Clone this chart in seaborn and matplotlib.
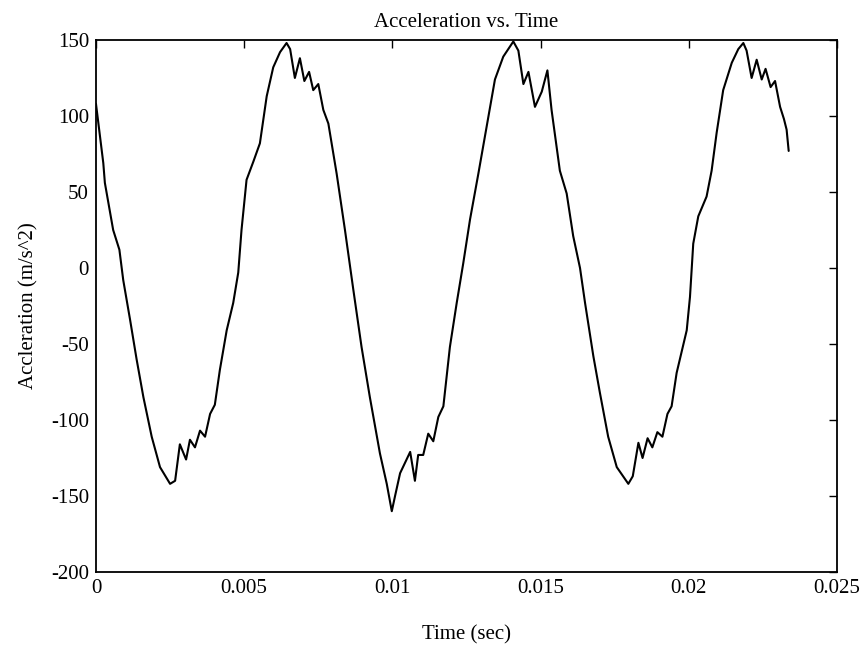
import matplotlib
matplotlib.use("Agg")
import matplotlib.pyplot as plt
import seaborn as sns
import pandas as pd

# Sampled acceleration record (time in seconds, acceleration in m/s^2)
time_s = [
    0.0, 0.000247, 0.0003, 0.00058, 0.00079, 0.00092, 0.00115, 0.00137, 0.0016,
    0.00188, 0.00216, 0.0025, 0.00267, 0.00283, 0.00304, 0.00317, 0.00334,
    0.00351, 0.00368, 0.00385, 0.00401, 0.00418, 0.00441, 0.00463, 0.0048,
    0.00491, 0.00508, 0.00531, 0.00553, 0.00576, 0.00598, 0.00621, 0.00643,
    0.00655, 0.00671, 0.00688, 0.00703, 0.00719, 0.00733, 0.0075, 0.00767,
    0.00784, 0.00812, 0.0084, 0.00868, 0.00896, 0.00924, 0.00958, 0.00981,
    0.00998, 0.01009, 0.01026, 0.01043, 0.0106, 0.01076, 0.01087, 0.01104,
    0.01121, 0.01138, 0.01155, 0.01172, 0.01194, 0.01217, 0.01239, 0.01262,
    0.0129, 0.01318, 0.01346, 0.01374, 0.01408, 0.01425, 0.01442, 0.01459,
    0.01481, 0.01504, 0.01523, 0.01537, 0.01565, 0.01588, 0.0161, 0.01633,
    0.0165, 0.01678, 0.017, 0.01728, 0.01757, 0.01796, 0.01811, 0.0183,
    0.01844, 0.01861, 0.01877, 0.01894, 0.01911, 0.01928, 0.01942, 0.01959,
    0.01993, 0.02004, 0.02015, 0.02032, 0.0206, 0.02077, 0.02094, 0.02116,
    0.02145, 0.02167, 0.02184, 0.02195, 0.02212, 0.02229, 0.02246, 0.02259,
    0.02276, 0.02291, 0.02308, 0.02321, 0.0233, 0.02337,
]
accel = [
    108, 69, 56, 25, 12, -8, -34, -60, -85,
    -111, -131, -142, -140, -116, -126, -113, -118,
    -107, -111, -96, -90, -67, -41, -23, -3,
    25, 58, 70, 82, 113, 132, 142, 148,
    144, 125, 138, 123, 129, 117, 121, 104,
    95, 62, 25, -14, -52, -85, -122, -142,
    -160, -150, -135, -128, -121, -140, -123, -123,
    -109, -114, -98, -91, -52, -23, 3, 32,
    62, 93, 124, 139, 149, 143, 121, 129,
    106, 116, 130, 104, 64, 49, 21, 0,
    -23, -58, -82, -111, -131, -142, -137, -115,
    -125, -112, -118, -108, -111, -96, -91, -69,
    -41, -19, 16, 34, 47, 64, 89, 117,
    135, 144, 148, 143, 125, 137, 124, 131,
    119, 123, 106, 98, 91, 77,
]

x_ticks = [0, 0.005, 0.01, 0.015, 0.02, 0.025]
x_tick_labels = ["0", "0.005", "0.01", "0.015", "0.02", "0.025"]
y_ticks = [-200, -150, -100, -50, 0, 50, 100, 150]

sns.set_style("white")
plt.rcParams["font.family"] = ["Liberation Serif", "DejaVu Serif"]
plt.rcParams["text.color"] = "black"
plt.rcParams["axes.labelcolor"] = "black"

df = pd.DataFrame({"t": time_s, "a": accel})

fig = plt.figure(figsize=(8.67, 6.52), dpi=100)
ax = fig.add_axes([0.1107, 0.1227, 0.8547, 0.816])

sns.lineplot(data=df, x="t", y="a", ax=ax, color="black", linewidth=1.5,
             estimator=None, sort=False)

ax.set_xlim(0, 0.025)
ax.set_ylim(-200, 150)
ax.set_xticks(x_ticks)
ax.set_xticklabels(x_tick_labels)
ax.set_yticks(y_ticks)
ax.set_yticklabels([str(v) for v in y_ticks])

ax.tick_params(direction="in", length=6, width=1, top=True, right=True,
               labelsize=15, colors="black", labelcolor="black", pad=5)
for side in ax.spines.values():
    side.set_visible(True)
    side.set_color("black")
    side.set_linewidth(1.3)

ax.set_title("Acceleration vs. Time", fontsize=15, pad=9, color="black")
ax.set_xlabel("Time (sec)", fontsize=15, labelpad=20, color="black")
ax.set_ylabel("Accleration (m/s^2)", fontsize=15, labelpad=9, color="black")

fig.savefig("out.png", dpi=100, facecolor="white")
